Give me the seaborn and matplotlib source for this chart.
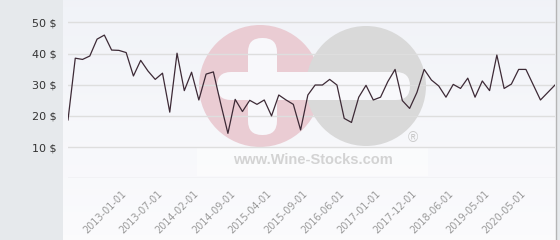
import numpy as np
import pandas as pd
import matplotlib
matplotlib.use("Agg")
import matplotlib.pyplot as plt
import matplotlib.transforms as mtransforms
from matplotlib.patches import Rectangle, Circle, FancyBboxPatch
import seaborn as sns

# ---- data ----
prices = [18.7, 38.5, 38.1, 39.2, 44.6, 45.9, 41.1, 41.0, 40.3, 32.8,
          37.8, 34.4, 31.7, 33.7, 21.2, 40.1, 28.1, 34.0, 25.1, 33.4,
          34.1, 24.0, 14.4, 25.3, 21.4, 25.0, 23.7, 25.1, 20.0, 26.7,
          25.1, 23.7, 15.5, 26.7, 29.9, 29.9, 31.7, 29.9, 19.2, 17.9,
          26.0, 29.8, 25.1, 26.0, 31.0, 34.9, 24.9, 22.4, 27.5, 34.9,
          31.5, 29.6, 26.0, 30.1, 28.8, 32.1, 26.0, 31.2, 28.1, 39.5,
          28.8, 30.2, 34.9, 34.9, 30.0, 25.1, 27.5, 29.9]
tick_positions = [8, 13, 18, 23, 28, 33, 38, 43, 48, 53, 58, 63]
tick_labels = ["2013-01-01", "2013-07-01", "2014-02-01", "2014-09-01",
               "2015-04-01", "2015-09-01", "2016-06-01", "2017-01-01",
               "2017-12-01", "2018-06-01", "2019-05-01", "2020-05-01"]
y_ticks = [0, 10, 20, 30, 40, 50]
y_labels = ["", "10 $", "20 $", "30 $", "40 $", "50 $"]

df = pd.DataFrame({"idx": np.arange(len(prices)), "price": prices})

W, H = 560, 240
fig = plt.figure(figsize=(W / 100, H / 100), dpi=100, facecolor="#e6e9ec")

# plot-area background (light gradient)
bg = fig.add_axes([63 / W, 0, 493 / W, 1], zorder=0)
grad = np.linspace(0, 1, 256).reshape(-1, 1)
top = np.array([0.945, 0.952, 0.972])
bot = np.array([0.985, 0.985, 0.992])
img = top + (bot - top) * grad[..., None]
bg.imshow(img, aspect="auto", extent=[0, 1, 0, 1], origin="upper")
bg.set_axis_off()

# watermark layer in pixel coordinates
wm = fig.add_axes([0, 0, 1, 1], zorder=1)
wm.set_xlim(0, W)
wm.set_ylim(H, 0)
wm.set_axis_off()
wm.patch.set_alpha(0)
wm.add_patch(Circle((260, 86), 61, color="#eaccd3", lw=0))
wm.add_patch(Circle((366, 86), 60, color="#d9d9d9", lw=0))
wm.add_patch(FancyBboxPatch((248, 38), 29, 97, boxstyle="round,pad=0,rounding_size=14",
                            color="#f8f8fb", lw=0))
wm.add_patch(FancyBboxPatch((217, 72), 193, 28, boxstyle="round,pad=0,rounding_size=14",
                            color="#f8f8fb", lw=0))
wm.add_patch(Rectangle((197, 148), 231, 28, color="white", alpha=0.45, lw=0))
wm.text(312.5, 160, "www.Wine-Stocks.com", ha="center", va="center",
        fontsize=10.5, fontweight="bold", family="Liberation Sans", color="#d3d3d3")
wm.text(413, 138, "®", ha="center", va="center", fontsize=10,
        family="Liberation Sans", color="#c9c9c9")
wm.plot([556, 556], [0, H], color="#b5b5b5", lw=1)

# main chart
ax = fig.add_axes([68 / W, (H - 178.3) / H, 487 / W, 178.3 / H], zorder=2)
ax.patch.set_alpha(0)
sns.lineplot(data=df, x="idx", y="price", ax=ax, color="#3d2a36", lw=0.9)
ax.set_xlim(0, len(prices) - 1)
ax.set_ylim(0, 178.3 / 3.12)
for s in ax.spines.values():
    s.set_visible(False)
ax.set_yticks(y_ticks)
ax.set_yticklabels(y_labels, fontsize=8, color="#333333")
ax.yaxis.grid(True, color="#dedede", lw=1)
ax.set_axisbelow(True)
ax.set_xticks(tick_positions)
ax.set_xticklabels(tick_labels, rotation=45, ha="right", va="top",
                   rotation_mode="anchor", fontsize=7, color="#9a9a9a")
ax.tick_params(axis="y", length=0, pad=8)
ax.tick_params(axis="x", length=0, pad=10)
shift = mtransforms.ScaledTranslation(-5 / 100, 4 / 100, fig.dpi_scale_trans)
for lab in ax.get_xticklabels():
    lab.set_transform(lab.get_transform() + shift)
ax.set_xlabel("")
ax.set_ylabel("")

fig.savefig("out.png", dpi=100, facecolor=fig.get_facecolor())
